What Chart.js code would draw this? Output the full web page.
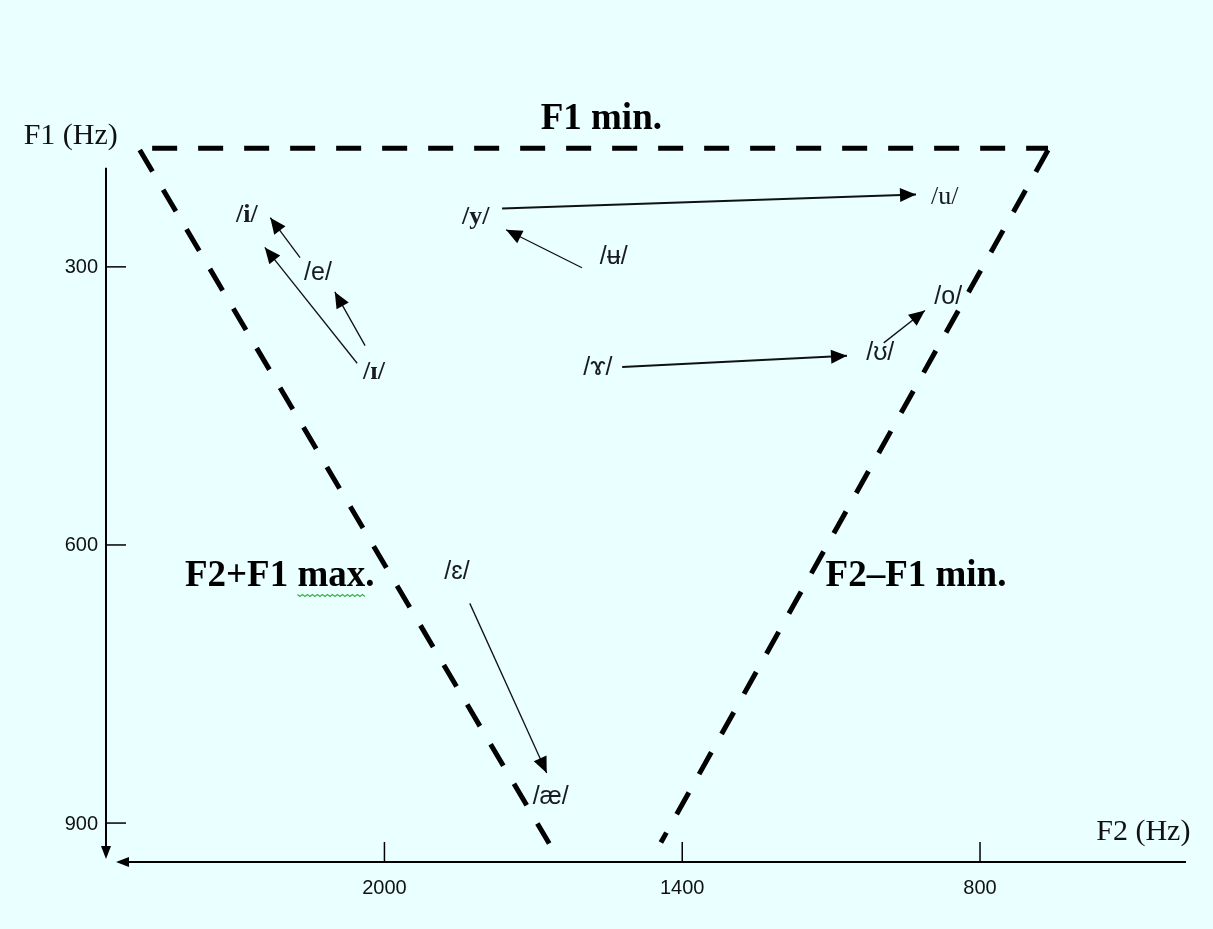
<!DOCTYPE html>
<html>
<head>
<meta charset="utf-8">
<script src="https://cdn.jsdelivr.net/npm/chart.js@4.4.1/dist/chart.umd.min.js"></script>
<style>
  body { margin: 0; background: #eaffff; }
  canvas { display: block; }
</style>
</head>
<body>
<canvas id="vowelSpace" width="1213" height="929"></canvas>
<script>
// F1 / F2 values are in Hz; the F2 axis runs right-to-left, F1 top-to-bottom
const f1Ticks = [300, 600, 900];
const f2Ticks = [2000, 1400, 800];
const f1AxisTop = 193;

// triangle edges, [F2, F1]
const f1MinEdge = [[2468, 172], [663, 172]];
const f2PlusF1MaxEdge = [[2493, 174], [1668, 922]];
const f2MinusF1MinEdge = [[663, 174], [1443, 921]];

// vowel labels
const vowels = ['/i/', '/e/', '/ɪ/', '/y/', '/ʉ/', '/u/', '/o/', '/ʊ/', '/ɤ/', '/ɛ/', '/æ/'];
const vowelF2 = [2277, 2134, 2021, 1816, 1538, 871, 864, 1001, 1570, 1854, 1665];
const vowelF1 = [244, 307, 414, 246, 290, 225, 333, 393, 409, 629, 872];

// shifts, [F2, F1] start -> end
const arrowFrom = [[2170, 290], [2055, 404], [2039, 385], [1763, 237], [1602, 301], [994, 382], [1521, 408], [1828, 663]];
const arrowTo = [[2230, 247], [2241, 279], [2100, 327], [929, 222], [1755, 260], [911, 347], [1068, 396], [1673, 846]];

// region names
const regionLabels = ['F1 min.', 'F2+F1 max.', 'F2–F1 min.'];
const regionF2 = [1563, 2211, 929];
const regionF1 = [141, 634, 634];

const axisTitles = ['F1 (Hz)', 'F2 (Hz)'];
const axisTitleF2 = [2632, 471];
const axisTitleF1 = [159, 910];

const toPoints = pairs => pairs.map(p => ({ x: p[0], y: p[1] }));

const serifBold = ['/i/', '/ɪ/', '/y/'];
const serifPlain = ['/u/'];

function edge(pairs) {
  return {
    data: toPoints(pairs),
    showLine: true,
    borderColor: '#000',
    borderWidth: 5,
    borderDash: [25, 21],
    borderCapStyle: 'butt',
    pointRadius: 0,
    clip: false
  };
}

const datasets = [edge(f1MinEdge), edge(f2PlusF1MaxEdge), edge(f2MinusF1MinEdge)];
arrowFrom.forEach((from, i) => {
  datasets.push({
    data: toPoints([from, arrowTo[i]]),
    showLine: true,
    borderColor: '#111',
    borderWidth: (i === 3 || i === 6) ? 2 : 1.3,
    pointRadius: 0,
    clip: false,
    arrow: true
  });
});

function arrowHead(ctx, x0, y0, x1, y1, len, half) {
  const a = Math.atan2(y1 - y0, x1 - x0);
  const c = Math.cos(a), s = Math.sin(a);
  ctx.beginPath();
  ctx.moveTo(x1, y1);
  ctx.lineTo(x1 - len * c + half * s, y1 - len * s - half * c);
  ctx.lineTo(x1 - len * c - half * s, y1 - len * s + half * c);
  ctx.closePath();
  ctx.fill();
}

const diagram = {
  id: 'diagram',
  beforeDraw(chart) {
    const ctx = chart.ctx;
    ctx.save();
    ctx.fillStyle = '#eaffff';
    ctx.fillRect(0, 0, chart.width, chart.height);
    ctx.restore();
  },
  afterDatasetsDraw(chart) {
    const ctx = chart.ctx;
    ctx.save();
    ctx.fillStyle = '#000';
    chart.data.datasets.forEach((ds, i) => {
      if (!ds.arrow) return;
      const pts = chart.getDatasetMeta(i).data;
      arrowHead(ctx, pts[0].x, pts[0].y, pts[1].x, pts[1].y, 16, 7);
    });
    ctx.restore();
  },
  afterDraw(chart) {
    const ctx = chart.ctx;
    const x = chart.scales.x, y = chart.scales.y;
    const area = chart.chartArea;
    const left = area.left, bottom = area.bottom;
    ctx.save();
    ctx.strokeStyle = '#000';
    ctx.fillStyle = '#000';
    ctx.lineWidth = 2;

    // F1 axis, pointing down to the origin
    ctx.beginPath();
    ctx.moveTo(left, y.getPixelForValue(f1AxisTop));
    ctx.lineTo(left, bottom - 8);
    ctx.stroke();
    arrowHead(ctx, left, bottom - 20, left, bottom - 3, 13, 5);

    // F2 axis, pointing left to the origin
    ctx.beginPath();
    ctx.moveTo(area.right, bottom);
    ctx.lineTo(left + 16, bottom);
    ctx.stroke();
    arrowHead(ctx, left + 30, bottom, left + 10, bottom, 13, 5);

    ctx.lineWidth = 1.5;
    ctx.font = '20px "Liberation Sans"';
    ctx.fillStyle = '#111';
    ctx.textBaseline = 'middle';
    ctx.textAlign = 'right';
    f1Ticks.forEach(v => {
      const py = y.getPixelForValue(v);
      ctx.beginPath();
      ctx.moveTo(left, py);
      ctx.lineTo(left + 20, py);
      ctx.stroke();
      ctx.fillText(String(v), left - 8, py + 1);
    });
    ctx.textAlign = 'center';
    f2Ticks.forEach(v => {
      const px = x.getPixelForValue(v);
      ctx.beginPath();
      ctx.moveTo(px, bottom);
      ctx.lineTo(px, bottom - 20);
      ctx.stroke();
      ctx.fillText(String(v), px, bottom + 26);
    });

    // axis titles
    ctx.font = '30px "Liberation Serif"';
    axisTitles.forEach((t, i) => {
      ctx.fillText(t, x.getPixelForValue(axisTitleF2[i]), y.getPixelForValue(axisTitleF1[i]));
    });

    // region names
    ctx.font = 'bold 37px "Liberation Serif"';
    ctx.fillStyle = '#000';
    regionLabels.forEach((t, i) => {
      const px = x.getPixelForValue(regionF2[i]);
      const py = y.getPixelForValue(regionF1[i]);
      ctx.fillText(t, px, py);
      if (t === 'F2+F1 max.') {
        // spell-checker squiggle under "max"
        const w = ctx.measureText(t).width;
        const x0 = px - w / 2 + ctx.measureText('F2+F1 ').width;
        const x1 = x0 + ctx.measureText('max').width;
        ctx.save();
        ctx.strokeStyle = '#3cb043';
        ctx.lineWidth = 1.2;
        ctx.beginPath();
        for (let sx = x0, k = 0; sx <= x1; sx += 2.5, k++) {
          const sy = py + 18 + (k % 2 ? 2 : 0);
          if (k === 0) ctx.moveTo(sx, sy); else ctx.lineTo(sx, sy);
        }
        ctx.stroke();
        ctx.restore();
      }
    });

    // vowels
    ctx.fillStyle = '#1a1a22';
    vowels.forEach((v, i) => {
      if (serifBold.includes(v)) ctx.font = 'bold 26px "Liberation Serif"';
      else if (serifPlain.includes(v)) ctx.font = '26px "Liberation Serif"';
      else ctx.font = '25px "Liberation Sans"';
      ctx.fillText(v, x.getPixelForValue(vowelF2[i]), y.getPixelForValue(vowelF1[i]));
    });
    ctx.restore();
  }
};

new Chart(document.getElementById('vowelSpace'), {
  type: 'scatter',
  data: { datasets: datasets },
  options: {
    responsive: false,
    animation: false,
    events: [],
    layout: { padding: { left: 106, right: 27, top: 100, bottom: 67 } },
    plugins: {
      legend: { display: false },
      tooltip: { enabled: false }
    },
    scales: {
      x: { type: 'linear', reverse: true, min: 385, max: 2561, display: false },
      y: { type: 'linear', reverse: true, min: 120, max: 942, display: false }
    }
  },
  plugins: [diagram]
});
</script>
</body>
</html>
